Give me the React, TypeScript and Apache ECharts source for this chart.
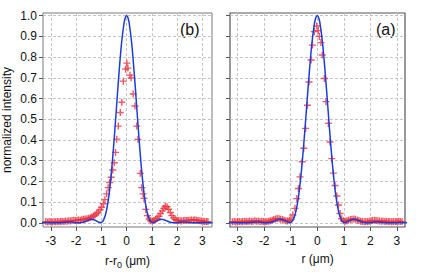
import React, { useEffect, useRef } from "react";
import * as echarts from "echarts";

// Measured points, panel (b): [r - r0 (µm), normalized intensity]
const measuredB: [number, number][] = [
  [-3.20, 0.006], [-3.13, 0.004], [-3.07, 0.006], [-3.00, 0.005], [-2.94, 0.004], [-2.87, 0.006],
  [-2.81, 0.005], [-2.74, 0.007], [-2.68, 0.005], [-2.61, 0.006], [-2.55, 0.008], [-2.48, 0.007],
  [-2.42, 0.009], [-2.35, 0.008], [-2.29, 0.010], [-2.22, 0.009], [-2.16, 0.011], [-2.09, 0.012],
  [-2.03, 0.011], [-1.96, 0.013], [-1.90, 0.014], [-1.83, 0.013], [-1.77, 0.016], [-1.70, 0.017],
  [-1.64, 0.019], [-1.57, 0.020], [-1.51, 0.022], [-1.44, 0.025], [-1.38, 0.028], [-1.31, 0.033],
  [-1.25, 0.038], [-1.18, 0.045], [-1.12, 0.052], [-1.05, 0.063], [-0.99, 0.075], [-0.92, 0.092],
  [-0.86, 0.112], [-0.79, 0.140], [-0.73, 0.170], [-0.67, 0.195], [-0.61, 0.220], [-0.55, 0.255],
  [-0.49, 0.290], [-0.44, 0.340], [-0.39, 0.404], [-0.33, 0.467], [-0.25, 0.533], [-0.19, 0.582],
  [-0.13, 0.684], [-0.04, 0.742], [0.01, 0.771], [0.05, 0.747], [0.13, 0.713], [0.18, 0.700],
  [0.26, 0.622], [0.33, 0.564], [0.40, 0.467], [0.45, 0.403], [0.54, 0.239], [0.60, 0.170],
  [0.65, 0.140], [0.69, 0.118], [0.76, 0.065], [0.82, 0.035], [0.89, 0.018], [0.95, 0.010],
  [1.02, 0.009], [1.08, 0.011], [1.15, 0.016], [1.21, 0.022], [1.28, 0.032], [1.34, 0.045],
  [1.41, 0.058], [1.47, 0.070], [1.53, 0.080], [1.60, 0.078], [1.66, 0.066], [1.73, 0.050],
  [1.79, 0.035], [1.86, 0.024], [1.92, 0.017], [1.99, 0.013], [2.05, 0.011], [2.12, 0.010],
  [2.18, 0.009], [2.25, 0.011], [2.31, 0.012], [2.38, 0.011], [2.44, 0.013], [2.51, 0.012],
  [2.57, 0.014], [2.64, 0.013], [2.70, 0.015], [2.77, 0.013], [2.83, 0.011], [2.90, 0.010],
  [2.96, 0.009], [3.03, 0.008], [3.09, 0.007], [3.16, 0.006], [3.22, 0.006],
];

// Measured points, panel (a): [r (µm), normalized intensity]
const measuredA: [number, number][] = [
  [-3.20, 0.005], [-3.13, 0.006], [-3.07, 0.004], [-3.00, 0.006], [-2.94, 0.007], [-2.87, 0.005],
  [-2.81, 0.006], [-2.74, 0.008], [-2.68, 0.006], [-2.61, 0.007], [-2.55, 0.009], [-2.48, 0.007],
  [-2.42, 0.008], [-2.35, 0.010], [-2.29, 0.008], [-2.22, 0.009], [-2.16, 0.007], [-2.09, 0.008],
  [-2.03, 0.006], [-1.96, 0.005], [-1.90, 0.006], [-1.83, 0.008], [-1.77, 0.010], [-1.70, 0.013],
  [-1.64, 0.016], [-1.57, 0.019], [-1.51, 0.021], [-1.44, 0.020], [-1.38, 0.018], [-1.31, 0.016],
  [-1.25, 0.012], [-1.18, 0.010], [-1.12, 0.009], [-1.05, 0.012], [-0.99, 0.018], [-0.92, 0.038],
  [-0.84, 0.070], [-0.77, 0.117], [-0.71, 0.166], [-0.65, 0.222], [-0.57, 0.295], [-0.51, 0.360],
  [-0.44, 0.456], [-0.37, 0.568], [-0.31, 0.680], [-0.23, 0.786], [-0.18, 0.858], [-0.11, 0.923],
  [-0.02, 0.950], [0.04, 0.928], [0.08, 0.900], [0.14, 0.870], [0.19, 0.810], [0.27, 0.697],
  [0.33, 0.585], [0.42, 0.480], [0.48, 0.390], [0.55, 0.310], [0.61, 0.240], [0.67, 0.180],
  [0.74, 0.130], [0.80, 0.086], [0.86, 0.045], [0.92, 0.020], [0.99, 0.010], [1.05, 0.008],
  [1.12, 0.010], [1.18, 0.013], [1.25, 0.016], [1.31, 0.018], [1.38, 0.019], [1.44, 0.017],
  [1.51, 0.014], [1.57, 0.011], [1.64, 0.008], [1.70, 0.006], [1.77, 0.005], [1.83, 0.006],
  [1.90, 0.007], [1.96, 0.008], [2.03, 0.010], [2.09, 0.011], [2.16, 0.012], [2.22, 0.011],
  [2.29, 0.010], [2.35, 0.009], [2.42, 0.008], [2.48, 0.009], [2.55, 0.007], [2.61, 0.008],
  [2.68, 0.006], [2.74, 0.007], [2.81, 0.005], [2.87, 0.006], [2.94, 0.007], [3.00, 0.006],
  [3.07, 0.008], [3.13, 0.007], [3.20, 0.006],
];

// Theoretical (blue) profile
const modelX: number[] = [
  -3.4, -3.3, -3.2, -3.1, -3.0, -2.9, -2.8, -2.7, -2.6, -2.5, -2.4, -2.3, -2.2, -2.1, -2.0, -1.9, -1.8,
  -1.7, -1.6, -1.5, -1.4, -1.3, -1.2, -1.1, -1.0, -0.9, -0.8, -0.7, -0.6, -0.5, -0.4, -0.3, -0.2, -0.1,
  -0.05, 0, 0.05, 0.1, 0.2, 0.3, 0.4, 0.5, 0.6, 0.7, 0.8, 0.9, 1.0, 1.1, 1.2, 1.3, 1.4, 1.5, 1.6, 1.7,
  1.8, 1.9, 2.0, 2.1, 2.2, 2.3, 2.4, 2.5, 2.6, 2.7, 2.8, 2.9, 3.0, 3.1, 3.2, 3.3, 3.4,
];
const modelY: number[] = [
  0.0005, 0.0008, 0.0011, 0.0012, 0.001, 0.0006, 0.0002, 0.0002, 0.0008, 0.002, 0.0032, 0.0039, 0.0037,
  0.0027, 0.001, 0.0002, 0.0012, 0.0045, 0.0092, 0.014, 0.017, 0.0152, 0.0096, 0.003, 0.002, 0.017,
  0.058, 0.133, 0.246, 0.393, 0.559, 0.725, 0.868, 0.966, 0.991, 1.0, 0.991, 0.966, 0.868, 0.725,
  0.559, 0.393, 0.246, 0.133, 0.058, 0.017, 0.002, 0.003, 0.0096, 0.0152, 0.017, 0.014, 0.0092, 0.0045,
  0.0012, 0.0002, 0.001, 0.0027, 0.0037, 0.0039, 0.0032, 0.002, 0.0008, 0.0002, 0.0002, 0.0006, 0.001,
  0.0012, 0.0011, 0.0008, 0.0005,
];

const yTicks: number[] = [0, 0.1, 0.2, 0.3, 0.4, 0.5, 0.6, 0.7, 0.8, 0.9, 1.0];
const xTicks: number[] = [-3, -2, -1, 0, 1, 2, 3];
const panelLabels: string[] = ["(b)", "(a)"];

const FONT = "'Liberation Sans', Arial, Helvetica, sans-serif";
const BLUE = "#1c3cd8";
const RED = "#ec2f3c";
const PLUS = "path://M4,0H6V4H10V6H6V10H4V6H0V4H4Z";

export default function App() {
  const ref = useRef<HTMLDivElement>(null);
  useEffect(() => {
    if (!ref.current) return;
    const chart = echarts.init(ref.current, null, { renderer: "svg" });
    const model = modelX.map((x, i) => [x, modelY[i]]);
    const splitLine = { show: true, lineStyle: { color: "#c4c4c4", width: 1, type: [3, 2] as any } };
    const tick = { show: true, inside: false, length: 4, lineStyle: { color: "#555", width: 1 }, customValues: yTicks };
    const xTick = { show: true, inside: false, length: 4, lineStyle: { color: "#555", width: 1 }, customValues: xTicks };
    const mkY = (idx: number, labels: boolean) => ({
      type: "value",
      gridIndex: idx,
      position: "left",
      min: -0.02,
      max: 1.013,
      axisLine: { show: false, onZero: false },
      axisTick: tick,
      splitLine,
      axisLabel: {
        show: labels,
        customValues: yTicks,
        formatter: (v: number) => v.toFixed(1),
        fontFamily: FONT,
        fontSize: 12,
        color: "#111",
        margin: 6,
      },
      name: labels ? "normalized intensity" : "",
      nameLocation: "middle",
      nameGap: 30,
      nameTextStyle: { fontFamily: FONT, fontSize: 12, color: "#111" },
    });
    const mkX = (idx: number, min: number, max: number, name: string) => ({
      type: "value",
      gridIndex: idx,
      position: "bottom",
      min,
      max,
      axisLine: { show: false, onZero: false },
      axisTick: xTick,
      splitLine,
      axisLabel: {
        customValues: xTicks,
        fontFamily: FONT,
        fontSize: 12,
        color: "#111",
        margin: 8,
      },
      name,
      nameLocation: "middle",
      nameGap: 26,
      nameTextStyle: {
        fontFamily: FONT,
        fontSize: 12,
        color: "#111",
        rich: {
          s: { fontFamily: FONT, fontSize: 9, color: "#111", padding: [7, 0, 0, 0] },
        },
      },
    });
    const scatter = (idx: number, data: [number, number][]) => ({
      type: "scatter",
      xAxisIndex: idx,
      yAxisIndex: idx,
      data,
      symbol: PLUS,
      symbolSize: 7,
      itemStyle: { color: RED, opacity: 0.8 },
      silent: true,
      z: 2,
    });
    const line = (idx: number) => ({
      type: "line",
      xAxisIndex: idx,
      yAxisIndex: idx,
      data: model,
      showSymbol: false,
      smooth: 0.3,
      lineStyle: { color: BLUE, width: 1.5 },
      silent: true,
      z: 3,
    });
    chart.setOption({
      animation: false,
      backgroundColor: "#fff",
      grid: [
        { left: 42, top: 13, width: 170, height: 214, show: true, borderColor: "#7a7a7a", borderWidth: 1, backgroundColor: "transparent" },
        { left: 230, top: 13, width: 175, height: 214, show: true, borderColor: "#555", borderWidth: 1.2, backgroundColor: "transparent" },
      ],
      xAxis: [mkX(0, -3.31, 3.38, "r-r{s|0} (μm)"), mkX(1, -3.29, 3.31, "r (μm)")],
      yAxis: [mkY(0, true), mkY(1, false)],
      series: [scatter(0, measuredB), line(0), scatter(1, measuredA), line(1)],
      graphic: [
        { type: "text", left: 180, top: 21, style: { text: panelLabels[0], font: `16px ${FONT}`, fill: "#111" } },
        { type: "text", left: 376, top: 21, style: { text: panelLabels[1], font: `16px ${FONT}`, fill: "#111" } },
      ],
    });
    return () => chart.dispose();
  }, []);
  return <div ref={ref} style={{ width: 436, height: 276, position: "absolute", left: 0, top: 0 }} />;
}
